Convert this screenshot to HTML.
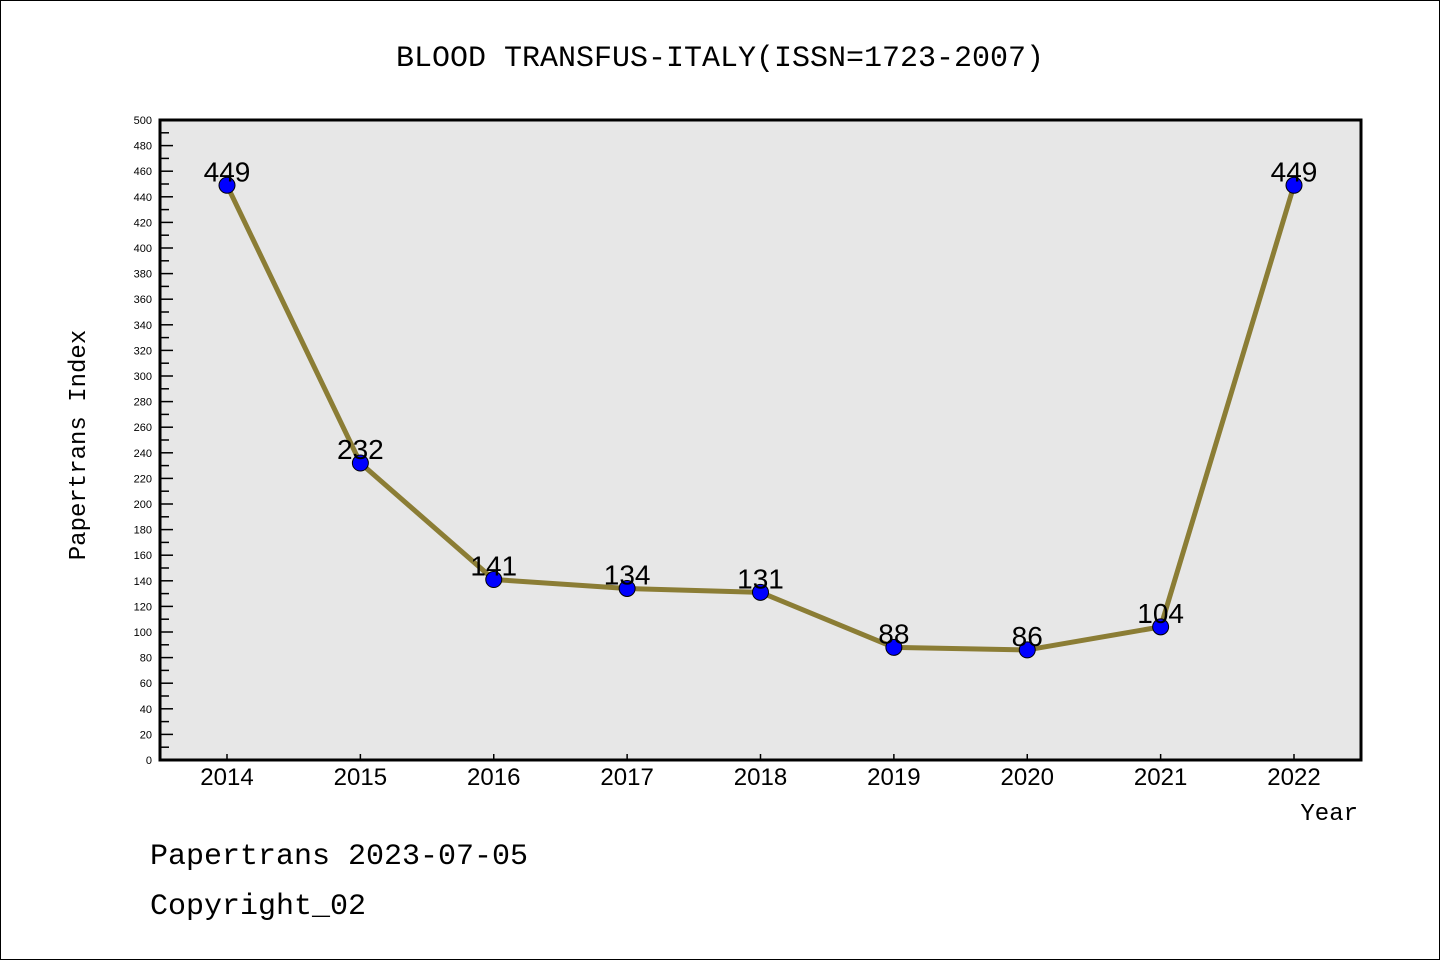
<!DOCTYPE html>
<html><head><meta charset="utf-8"><style>
html,body{margin:0;padding:0;background:#fff}
svg{display:block}
.mono{font-family:"Liberation Mono","DejaVu Sans Mono",monospace}
.sans{font-family:"Liberation Sans","DejaVu Sans",sans-serif}
</style></head><body>
<svg id="chart" width="1440" height="960">
<rect x="0.5" y="0.5" width="1439" height="959" fill="#fff" stroke="#000"/>
<text class="mono" x="720" y="66" text-anchor="middle" font-size="30">BLOOD TRANSFUS-ITALY(ISSN=1723-2007)</text>
<rect x="160" y="120" width="1201" height="640" fill="#e7e7e7"/>
<g id="yticks"></g><g id="xticks"></g><g id="series"></g>
<rect x="160" y="120" width="1201" height="640" fill="none" stroke="#000" stroke-width="3"/>
<text class="mono" transform="translate(85,445) rotate(-90)" text-anchor="middle" font-size="24">Papertrans Index</text>
<text class="mono" x="1358" y="820" text-anchor="end" font-size="24">Year</text>
<text class="mono" x="150" y="864" font-size="30">Papertrans 2023-07-05</text>
<text class="mono" x="150" y="914" font-size="30">Copyright_02</text>
</svg>
<script>
const years = [2014,2015,2016,2017,2018,2019,2020,2021,2022];
const values = [449,232,141,134,131,88,86,104,449];
const yTicks = [0,20,40,60,80,100,120,140,160,180,200,220,240,260,280,300,320,340,360,380,400,420,440,460,480,500];
const NS="http://www.w3.org/2000/svg";
const x = i => 227 + i*(1294-227)/(years.length-1);
const y = v => 760 - v*640/500;
function mk(tag, attrs, parent, txt){const e=document.createElementNS(NS,tag);for(const k in attrs)e.setAttribute(k,attrs[k]);if(txt!==undefined)e.textContent=txt;parent.appendChild(e);return e;}
const yg=document.getElementById('yticks'), xg=document.getElementById('xticks'), sg=document.getElementById('series');
for(let v=0;v<=500;v+=10){
  const major=v%20===0;
  const t=mk('line',{x1:160,x2:major?173:169,y1:y(v),y2:y(v),stroke:'#000','stroke-width':1.5},yg);
  
  
}
yTicks.forEach(v=>{
  const t=mk('text',{x:152,y:y(v)+4,'text-anchor':'end','font-size':11,'class':'sans'},yg,String(v));
  
  
});
years.forEach((yr,i)=>{
  const t=mk('line',{x1:x(i),x2:x(i),y1:760,y2:754,stroke:'#000','stroke-width':1.5},xg);
  
  
  const l=mk('text',{x:x(i),y:785,'text-anchor':'middle','font-size':24,'class':'sans'},xg,String(yr));
  
  
});
const line=mk('polyline',{points:values.map((v,i)=>x(i)+','+y(v)).join(' '),fill:'none',stroke:'#8b7d35','stroke-width':5},sg);


values.forEach((v,i)=>{
  const c=mk('circle',{cx:x(i),cy:y(v),r:8,fill:'#0000ff',stroke:'#000','stroke-width':1},sg);
  
  
  const t=mk('text',{x:x(i),y:y(v)-4,'text-anchor':'middle','font-size':28,'class':'sans'},sg,String(v));
  
  
});
</script>
</body></html>
